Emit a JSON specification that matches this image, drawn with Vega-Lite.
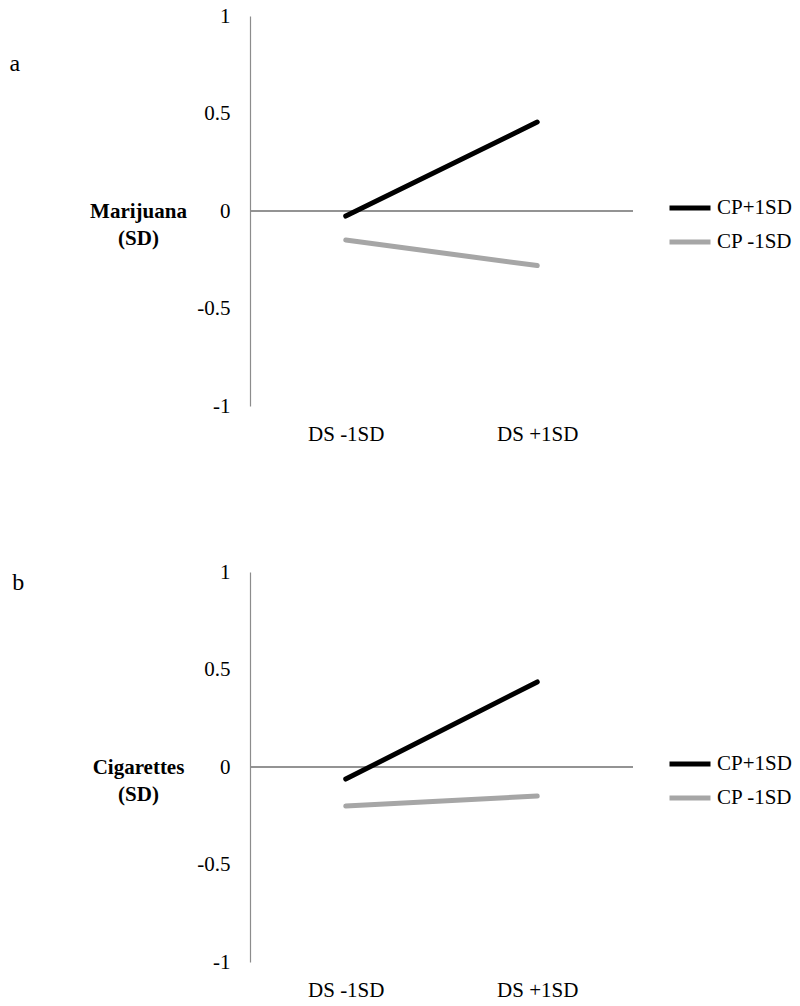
{
  "$schema": "https://vega.github.io/schema/vega-lite/v6.json",
  "padding": {"left": 9, "top": 5, "right": 5, "bottom": 5},
  "background": "white",
  "config": {
    "font": "'Liberation Serif', 'DejaVu Serif', serif",
    "view": {"stroke": null},
    "axis": {"labelFont": "'Liberation Serif', 'DejaVu Serif', serif", "titleFont": "'Liberation Serif', 'DejaVu Serif', serif", "labelColor": "black", "titleColor": "black"},
    "legend": {"labelFont": "'Liberation Serif', 'DejaVu Serif', serif", "labelColor": "black"},
    "title": {"font": "'Liberation Serif', 'DejaVu Serif', serif", "color": "black"}
  },
  "datasets": {
    "mj": [
      {"ds": "DS -1SD", "cp": "CP+1SD", "value": -0.026},
      {"ds": "DS +1SD", "cp": "CP+1SD", "value": 0.456},
      {"ds": "DS -1SD", "cp": "CP -1SD", "value": -0.149},
      {"ds": "DS +1SD", "cp": "CP -1SD", "value": -0.28}
    ],
    "cg": [
      {"ds": "DS -1SD", "cp": "CP+1SD", "value": -0.062},
      {"ds": "DS +1SD", "cp": "CP+1SD", "value": 0.436},
      {"ds": "DS -1SD", "cp": "CP -1SD", "value": -0.2},
      {"ds": "DS +1SD", "cp": "CP -1SD", "value": -0.149}
    ]
  },
  "resolve": {"scale": {"color": "independent", "x": "independent", "y": "independent"}, "legend": {"color": "independent"}},
  "spacing": 117,
  "vconcat": [
    {
      "title": {"text": "a", "anchor": "start", "frame": "bounds", "fontSize": 24, "fontWeight": "normal", "dx": -80, "dy": 75},
      "width": 383,
      "height": 390,
      "data": {"name": "mj"},
      "layer": [
        {
          "mark": {"type": "rule", "color": "#8c8c8c", "strokeWidth": 1.2},
          "encoding": {"y": {"datum": 0, "type": "quantitative", "scale": {"domain": [-1, 1], "nice": false}}}
        },
        {
          "mark": {"type": "line", "strokeWidth": 5, "strokeCap": "round"},
          "encoding": {
            "x": {"field": "ds", "type": "nominal", "sort": ["DS -1SD", "DS +1SD"], "scale": {"type": "point", "padding": 0.5},
              "axis": {"title": null, "domain": false, "ticks": false, "tickSize": 0, "labelAngle": 0, "labelFontSize": 21, "labelPadding": 17}},
            "y": {"field": "value", "type": "quantitative", "scale": {"domain": [-1, 1], "nice": false},
              "axis": {"values": [-1, -0.5, 0, 0.5, 1], "grid": false, "ticks": false, "tickSize": 0, "domainColor": "#8c8c8c", "domainWidth": 1.2,
                "labelFontSize": 21, "labelPadding": 20, "labelExpr": "toString(datum.value)",
                "title": ["Marijuana", "(SD)"], "titleAngle": 0, "titleAlign": "center", "titleBaseline": "middle", "titleFontSize": 21, "titleFontWeight": "bold", "titleLineHeight": 27, "titleX": -112, "titleY": 195}},
            "color": {"field": "cp", "type": "nominal", "scale": {"domain": ["CP+1SD", "CP -1SD"], "range": ["#000000", "#a6a6a6"]},
              "legend": {"title": null, "orient": "none", "legendX": 417, "legendY": 169, "symbolType": "stroke", "symbolStrokeWidth": 5, "symbolSize": 1681, "labelFontSize": 21, "labelOffset": 4, "rowPadding": 1}}
          }
        }
      ]
    },
    {
      "title": {"text": "b", "anchor": "start", "frame": "bounds", "fontSize": 24, "fontWeight": "normal", "dx": -80, "dy": 38},
      "width": 383,
      "height": 390,
      "data": {"name": "cg"},
      "layer": [
        {
          "mark": {"type": "rule", "color": "#8c8c8c", "strokeWidth": 1.2},
          "encoding": {"y": {"datum": 0, "type": "quantitative", "scale": {"domain": [-1, 1], "nice": false}}}
        },
        {
          "mark": {"type": "line", "strokeWidth": 5, "strokeCap": "round"},
          "encoding": {
            "x": {"field": "ds", "type": "nominal", "sort": ["DS -1SD", "DS +1SD"], "scale": {"type": "point", "padding": 0.5},
              "axis": {"title": null, "domain": false, "ticks": false, "tickSize": 0, "labelAngle": 0, "labelFontSize": 21, "labelPadding": 17}},
            "y": {"field": "value", "type": "quantitative", "scale": {"domain": [-1, 1], "nice": false},
              "axis": {"values": [-1, -0.5, 0, 0.5, 1], "grid": false, "ticks": false, "tickSize": 0, "domainColor": "#8c8c8c", "domainWidth": 1.2,
                "labelFontSize": 21, "labelPadding": 20, "labelExpr": "toString(datum.value)",
                "title": ["Cigarettes", "(SD)"], "titleAngle": 0, "titleAlign": "center", "titleBaseline": "middle", "titleFontSize": 21, "titleFontWeight": "bold", "titleLineHeight": 27, "titleX": -112, "titleY": 195}},
            "color": {"field": "cp", "type": "nominal", "scale": {"domain": ["CP+1SD", "CP -1SD"], "range": ["#000000", "#a6a6a6"]},
              "legend": {"title": null, "orient": "none", "legendX": 417, "legendY": 169, "symbolType": "stroke", "symbolStrokeWidth": 5, "symbolSize": 1681, "labelFontSize": 21, "labelOffset": 4, "rowPadding": 1}}
          }
        }
      ]
    }
  ]
}
